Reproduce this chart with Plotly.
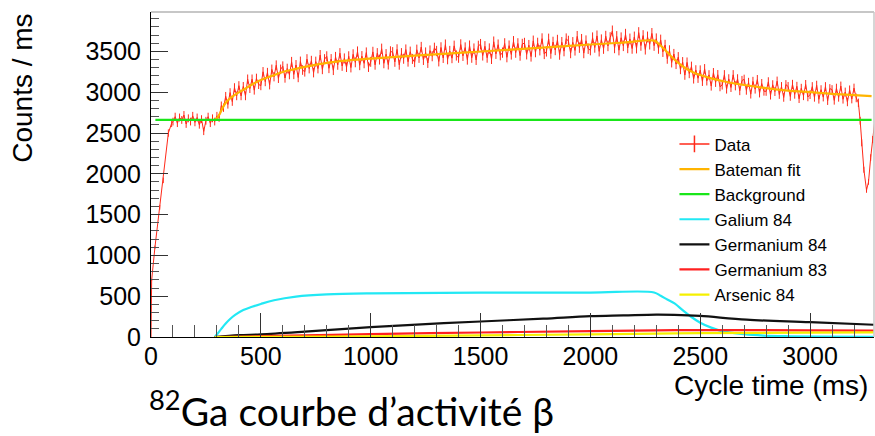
import plotly.graph_objects as go

# ---------------- data ----------------
# steep start of the cycle
head_t = [0, 3, 18, 40, 56, 79, 94]
head_v = [0, 700, 1100, 1590, 1920, 2500, 2620]

# 10 ms bins from 100 to 3210 ms (one row = 100 ms)
bins_t = list(range(100, 3220, 10))
bins_v = [
    2640, 2700, 2620, 2690, 2660, 2720, 2610, 2680, 2640, 2710,   # 100
    2630, 2690, 2600, 2670, 2520, 2650, 2700, 2620, 2680, 2640,   # 200
    2710, 2685, 2835, 2810, 2950, 2850, 2995, 2885, 3055, 2955,   # 300
    3080, 2955, 3070, 2955, 3160, 3045, 3160, 3025, 3170, 3095,   # 400
    3080, 3250, 3130, 3240, 3090, 3280, 3190, 3330, 3170, 3280,   # 500
    3318, 3174, 3290, 3216, 3372, 3218, 3334, 3180, 3376, 3272,   # 600
    3250, 3405, 3290, 3385, 3240, 3375, 3290, 3455, 3280, 3405,   # 700
    3440, 3293, 3406, 3269, 3432, 3335, 3478, 3321, 3414, 3307,   # 800
    3440, 3302, 3464, 3366, 3498, 3330, 3442, 3354, 3486, 3308,   # 900
    3372, 3494, 3336, 3478, 3400, 3532, 3354, 3466, 3338, 3500,   # 1000
    3490, 3372, 3524, 3336, 3478, 3410, 3522, 3374, 3496, 3408,   # 1100
    3368, 3520, 3421, 3553, 3395, 3486, 3358, 3510, 3441, 3543,   # 1200
    3505, 3377, 3548, 3420, 3582, 3403, 3505, 3417, 3568, 3450,   # 1300
    3422, 3584, 3445, 3547, 3399, 3570, 3422, 3534, 3395, 3567,   # 1400
    3588, 3450, 3562, 3423, 3535, 3407, 3618, 3470, 3582, 3453,   # 1500
    3485, 3597, 3428, 3570, 3462, 3623, 3485, 3597, 3448, 3590,   # 1600
    3602, 3464, 3576, 3437, 3629, 3491, 3603, 3514, 3656, 3468,   # 1700
    3500, 3652, 3473, 3615, 3517, 3638, 3460, 3612, 3503, 3655,   # 1800
    3627, 3479, 3611, 3512, 3684, 3546, 3648, 3479, 3631, 3533,   # 1900
    3515, 3667, 3548, 3690, 3501, 3643, 3534, 3686, 3567, 3669,   # 2000
    3750, 3542, 3683, 3515, 3667, 3568, 3710, 3542, 3653, 3535,   # 2100
    3677, 3539, 3730, 3572, 3694, 3525, 3677, 3588, 3720, 3571,   # 2200
    3655, 3535, 3640, 3495, 3578, 3410, 3512, 3364, 3468, 3344,   # 2300
    3430, 3280, 3370, 3210, 3365, 3230, 3315, 3163, 3272, 3171,   # 2400
    3270, 3133, 3286, 3139, 3212, 3075, 3238, 3121, 3214, 3067,   # 2500
    3088, 3213, 3038, 3163, 3058, 3213, 3078, 3163, 3018, 3143,   # 2600
    3158, 3024, 3120, 2976, 3132, 3038, 3154, 2990, 3106, 3012,   # 2700
    3010, 3127, 2964, 3091, 3008, 3135, 2972, 3069, 2936, 3093,   # 2800
    3070, 2948, 3096, 2974, 3072, 2920, 3048, 2956, 3094, 2942,   # 2900
    2970, 3068, 2937, 3085, 2913, 3031, 2940, 3068, 2896, 3044,   # 3000
    3032, 2900, 3049, 2937, 3075, 2913, 3002, 2880, 3028, 2916,   # 3100
    3050, 2930,                                                   # 3200
]
# beam-gate dip at the end of the cycle
tail_t = [3220, 3228, 3235, 3245, 3257, 3266, 3276, 3285, 3295, 3305]
tail_v = [2870, 2650, 2380, 2050, 1800, 1900, 2200, 2420, 2700, 2900]

data_t = head_t + bins_t + tail_t
data_v = head_v + bins_v + tail_v
assert len(data_t) == len(data_v)

fit_t = [290, 300, 315, 330, 345, 360, 380, 405, 430, 460, 500, 550, 600, 650, 700,
         800, 900, 1000, 1100, 1200, 1400, 1600, 1800, 2000, 2150, 2290, 2310, 2330,
         2350, 2375, 2400, 2430, 2460, 2500, 2550, 2600, 2650, 2700, 2800, 2900, 3000,
         3100, 3200, 3280]
fit_v = [2665, 2680, 2745, 2830, 2885, 2925, 2965, 3006, 3045, 3095, 3150, 3200, 3248, 3280, 3310,
         3360, 3390, 3412, 3430, 3448, 3482, 3515, 3550, 3585, 3608, 3632, 3595, 3545,
         3490, 3420, 3360, 3300, 3255, 3210, 3170, 3138, 3110, 3088, 3050, 3020, 3000,
         2980, 2965, 2952]

bkg_t = [20, 3280]
bkg_v = [2660, 2660]

ga84_t = [290, 300, 320, 340, 360, 383, 420, 460, 500, 560, 660, 800, 1000, 1500, 2000, 2290,
          2320, 2350, 2383, 2420, 2460, 2500, 2550, 2600, 2700, 2787, 2900, 3050, 3290]
ga84_v = [0, 30, 100, 165, 220, 270, 330, 370, 405, 450, 495, 522, 535, 543, 545, 546,
          505, 460, 411, 330, 245, 175, 115, 72, 35, 18, 9, 4, 1]

ge84_t = [290, 400, 500, 700, 1000, 1250, 1500, 1785, 2000, 2150, 2300, 2383, 2500, 2711, 3000, 3290]
ge84_v = [0, 22, 32, 65, 120, 158, 190, 225, 255, 265, 275, 272, 258, 212, 182, 150]

ge83_t = [290, 500, 1000, 1500, 2000, 2300, 2500, 3000, 3290]
ge83_v = [0, 10, 35, 55, 72, 82, 85, 82, 78]

as84_t = [290, 500, 1000, 1500, 2000, 2300, 2500, 3000, 3290]
as84_v = [0, 1, 8, 20, 33, 42, 47, 54, 57]

x_ticks = [0, 500, 1000, 1500, 2000, 2500, 3000]
y_ticks = [0, 500, 1000, 1500, 2000, 2500, 3000, 3500]

# ---------------- figure ----------------
RED = "#ff2a1a"
fig = go.Figure()

# legend proxy for the data (ROOT-style "+" marker)
fig.add_trace(go.Scatter(x=[None], y=[None], mode="lines+markers", name="Data",
                         line=dict(color=RED, width=1.5),
                         marker=dict(symbol="line-ns-open", size=12,
                                     line=dict(color=RED, width=1.5))))
fig.add_trace(go.Scatter(x=data_t, y=data_v, mode="lines", showlegend=False,
                         line=dict(color=RED, width=1),
                         error_y=dict(type="percent", value=1.8, width=0,
                                      thickness=1, color=RED)))
fig.add_trace(go.Scatter(x=fit_t, y=fit_v, mode="lines", name="Bateman fit",
                         line=dict(color="#ffb400", width=2.2, shape="spline")))
fig.add_trace(go.Scatter(x=bkg_t, y=bkg_v, mode="lines", name="Background",
                         line=dict(color="#19e619", width=2.2)))
fig.add_trace(go.Scatter(x=ga84_t, y=ga84_v, mode="lines", name="Galium 84",
                         line=dict(color="#22e8f4", width=2.2, shape="spline")))
fig.add_trace(go.Scatter(x=ge84_t, y=ge84_v, mode="lines", name="Germanium 84",
                         line=dict(color="#111111", width=2.2, shape="spline")))
fig.add_trace(go.Scatter(x=ge83_t, y=ge83_v, mode="lines", name="Germanium 83",
                         line=dict(color="#ff2020", width=2.2, shape="spline")))
fig.add_trace(go.Scatter(x=as84_t, y=as84_v, mode="lines", name="Arsenic 84",
                         line=dict(color="#f5f000", width=2.2, shape="spline")))

AXFONT = "Liberation Sans, Arial, sans-serif"

fig.update_layout(
    width=875, height=436,
    margin=dict(l=151, r=1, t=12, b=99),
    paper_bgcolor="white", plot_bgcolor="white",
    font=dict(family=AXFONT, color="black"),
    showlegend=True,
    legend=dict(x=0.724, y=0.648, xanchor="left", yanchor="top",
                bgcolor="rgba(0,0,0,0)", borderwidth=0,
                font=dict(family=AXFONT, size=17, color="black"),
                itemwidth=30, tracegroupgap=0),
    xaxis=dict(range=[0, 3291], tickmode="array", tickvals=x_ticks,
               ticktext=[str(v) for v in x_ticks],
               ticks="inside", ticklen=24, tickwidth=1, tickcolor="#333",
               minor=dict(dtick=100, ticks="inside", ticklen=12, tickcolor="#555", tickwidth=1),
               showgrid=False, zeroline=False, showline=True, linecolor="black", linewidth=1,
               tickfont=dict(family=AXFONT, size=25, color="black"),
               ticklabelstandoff=-3),
    yaxis=dict(range=[0, 3983], tickmode="array", tickvals=y_ticks,
               ticktext=[str(v) for v in y_ticks],
               ticks="inside", ticklen=17, tickwidth=1, tickcolor="#333",
               minor=dict(dtick=100, ticks="inside", ticklen=8, tickcolor="#555", tickwidth=1),
               showgrid=False, zeroline=False, showline=True, linecolor="black", linewidth=1,
               tickfont=dict(family=AXFONT, size=25, color="black"),
               ticklabelstandoff=4),
    shapes=[
        dict(type="line", xref="paper", yref="paper", x0=0, x1=1, y0=1, y1=1,
             line=dict(color="#b4b4b4", width=1.5)),
        dict(type="line", xref="paper", yref="paper", x0=1, x1=1, y0=0, y1=1,
             line=dict(color="#c8c8c8", width=1.5)),
    ],
    annotations=[
        dict(text="Cycle time (ms)", xref="paper", yref="paper", x=0.9945, y=-0.148,
             xanchor="right", yanchor="middle", showarrow=False,
             font=dict(family=AXFONT, size=28, color="black")),
        dict(text="Counts / ms", xref="paper", yref="paper", x=-0.178, y=1.0,
             xanchor="center", yanchor="top", textangle=-90, showarrow=False,
             font=dict(family=AXFONT, size=28, color="black")),
        dict(text="<sup>82</sup>Ga courbe d’activité β", xref="paper", yref="paper",
             x=-0.004, y=-0.3015, xanchor="left", yanchor="bottom", showarrow=False,
             borderpad=0,
             font=dict(family="Lato, Noto Sans, sans-serif", size=39, color="black")),
    ],
)

fig.write_html("out.html", config={"displayModeBar": False},
               post_script="document.body.style.margin='0px';")
